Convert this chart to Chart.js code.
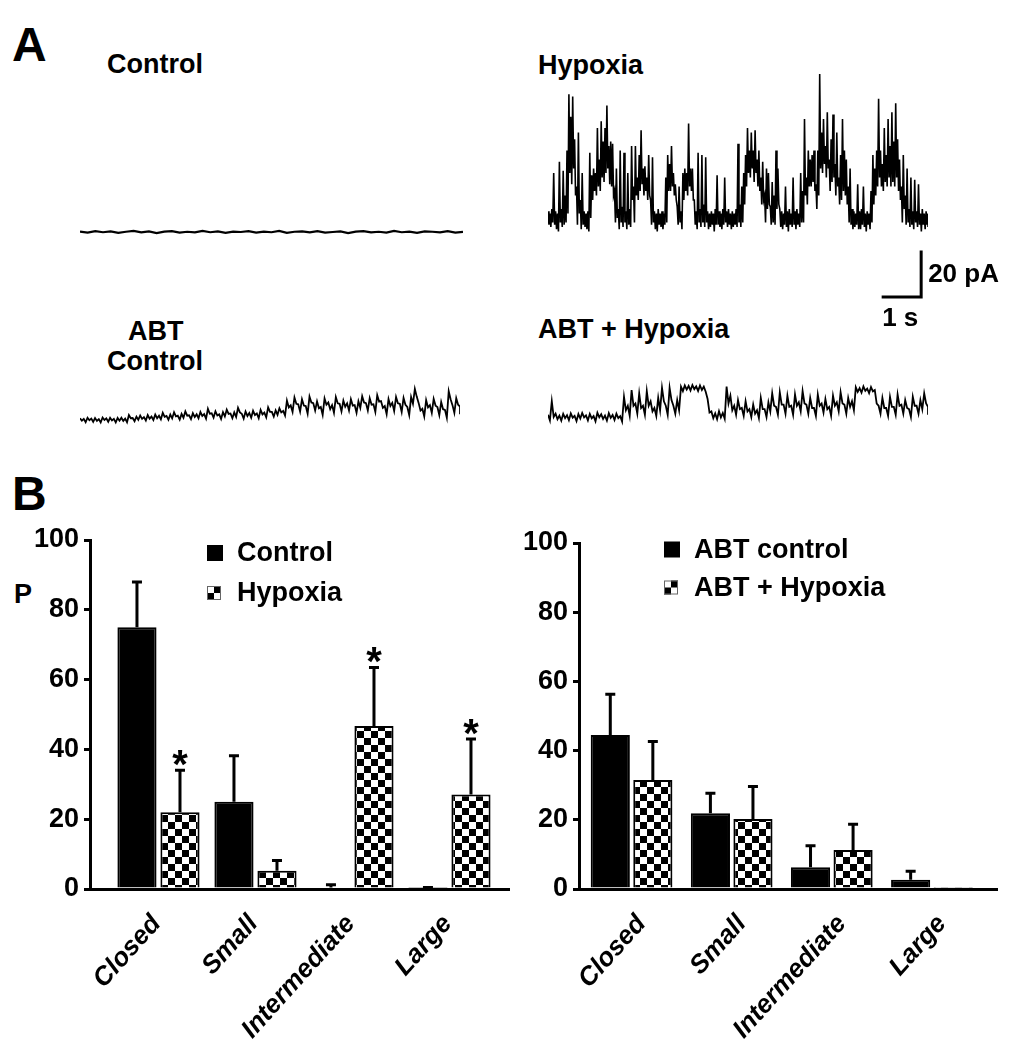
<!DOCTYPE html>
<html><head><meta charset="utf-8">
<script src="https://cdn.jsdelivr.net/npm/chart.js@4.4.1/dist/chart.umd.min.js"></script>
<style>
html,body{margin:0;padding:0;background:#fff;}
body{width:1014px;height:1050px;position:relative;overflow:hidden;font-family:'Liberation Sans',Arial,sans-serif;}
canvas{position:absolute;}
.t{position:absolute;font-weight:bold;color:#000;line-height:1;white-space:nowrap;font-size:27px;}
</style></head><body>
<div class="t" style="left:12px;top:21px;font-size:48px">A</div>
<div class="t" style="left:107px;top:51px">Control</div>
<div class="t" style="left:538px;top:52px">Hypoxia</div>
<div class="t" style="left:128px;top:318px">ABT</div>
<div class="t" style="left:107px;top:348px">Control</div>
<div class="t" style="left:538px;top:316px">ABT + Hypoxia</div>
<div class="t" style="left:12px;top:470px;font-size:48px">B</div>
<div class="t" style="left:14px;top:581px">P</div>

<canvas id="trCtrl" width="383" height="40" style="left:80px;top:212px"></canvas>
<canvas id="trHyp" width="474" height="280" style="left:540px;top:60px"></canvas>
<canvas id="trAbtCtrl" width="380" height="50" style="left:80px;top:380px"></canvas>
<canvas id="trAbtHyp" width="380" height="50" style="left:548px;top:377px"></canvas>
<canvas id="barLeft" width="510" height="550" style="left:0px;top:500px"></canvas>
<canvas id="barRight" width="514" height="550" style="left:500px;top:500px"></canvas>

<script>
// ---------------- DATA ----------------
// Single-channel current traces (pA relative to closed level), each 10 s long.
// Dense traces are stored as per-bin maximum / minimum envelopes.
const traceDuration_s = 10;
const controlTrace = [0.2,-0.3,0.4,-0.1,0.3,-0.4,0.1,0.5,-0.2,0.3,-0.5,0.2,0.4,-0.3,0.1,-0.2,0.5,-0.1,0.3,-0.4,0.2,0.0,0.4,-0.3,0.2,-0.1,0.5,-0.4,0.1,0.3,-0.2,0.4,-0.3,0.0,0.3,-0.5,0.2,0.4,-0.2,0.1,-0.3,0.5,-0.1,0.2,-0.4,0.3,0.1,-0.2,0.4,-0.3,0.1];

const hypoxiaMax = [3,2,4,20,3,2,25,4,21,10,30,55,45,54,35,14,38,8,20,3,
 2,3,29,19,22,20,40,26,43,34,40,50,32,34,33,12,22,4,30,5,
 29,3,20,4,32,14,32,18,28,39,22,23,18,28,8,27,3,2,4,2,
 3,2,18,28,24,32,20,15,5,14,3,20,22,20,42,22,22,8,3,29,
 4,28,6,27,3,2,3,2,4,19,3,2,4,18,3,4,2,3,2,4,
 33,6,14,20,28,40,30,38,30,39,26,30,18,25,10,22,20,5,16,10,
 30,22,4,3,2,14,3,4,2,18,3,4,2,20,12,44,18,30,26,28,
 30,15,30,64,38,44,32,47,26,35,46,24,38,18,28,44,30,26,14,22,
 4,3,2,15,3,4,14,2,3,2,12,28,22,30,53,30,24,40,28,44,
 32,47,34,51,35,26,14,28,10,22,4,18,3,17,3,15,2,4,2,3,2];
const hypoxiaMin = [-3,-4,-2,-3,-5,-6,-2,-4,-3,-2,2,20,15,22,10,-3,2,-5,-3,-4,
 -5,-6,0,8,12,10,14,12,18,16,20,22,15,14,10,-2,0,-5,-2,-4,
 -2,-5,-3,-4,8,-2,10,8,12,15,10,12,8,10,-3,-2,-5,-6,-3,-4,
 -5,-3,-2,12,12,14,10,8,-3,-2,-5,8,12,10,14,12,8,-3,-5,-2,
 -4,-2,-4,-2,-5,-4,-3,-6,-3,-3,-4,-5,-3,-2,-4,-3,-5,-4,-3,-4,
 -2,-4,-2,6,14,20,18,22,16,20,14,12,6,8,-2,4,6,-3,-2,-3,
 4,6,-4,-5,-3,-4,-6,-3,-4,-3,-5,-3,-4,-2,-2,10,6,14,14,16,
 12,4,10,22,20,24,18,22,12,16,18,10,14,6,8,12,10,6,-2,-3,
 -5,-4,-3,-5,-5,-3,-4,-6,-3,-5,-2,6,10,14,18,14,12,16,14,18,
 14,16,14,18,12,8,-2,4,-3,-2,-4,-3,-5,-2,-4,-3,-6,-3,-5,-3,-4];

const abtControlMax = [0.8,0.5,1.0,0.6,0.9,0.4,1.1,0.7,1.0,0.5,0.9,1.0,0.6,2.2,0.9,
 1.5,2.0,1.3,2.2,1.5,2.4,1.9,3.2,1.8,2.4,3.4,1.9,2.7,3.8,2.1,3.0,2.5,
 3.6,2.6,5.0,3.0,3.9,2.5,3.5,4.6,2.9,
 3.4,5.4,2.8,3.8,3.1,4.1,2.9,4.5,3.3,5.6,3.6,4.3,5.2,4.0,
 8.6,6.5,10.0,7.0,9.2,6.2,10.4,7.5,8.3,5.8,9.6,7.8,6.6,10.2,7.2,8.6,7.4,9.2,6.6,8.3,10.6,7.5,9.7,7.0,11.0,8.4,6.2,9.3,7.6,10.2,
 7.2,9.8,5.8,10.2,13.8,7.6,5.0,8.8,6.6,9.4,5.8,8.0,4.5,12.8,6.6,9.7,6.0];
const abtControlMin = [-0.3,-1.0,-0.1,-0.8,-0.4,-1.1,0.0,-0.8,-0.2,-1.1,-0.3,-0.4,-1.0,0.8,-0.5,
 0.1,0.5,-0.2,0.6,0.0,0.8,0.3,1.4,0.1,0.7,1.6,0.2,1.0,1.9,0.4,1.3,0.8,
 1.8,0.6,2.8,1.1,2.0,0.5,1.6,2.7,0.8,
 1.4,3.4,0.6,1.8,1.0,2.2,0.8,2.5,1.2,3.6,1.5,2.3,3.4,2.0,
 5.6,3.6,7.2,3.8,6.4,2.8,7.8,4.2,5.2,2.3,6.8,4.8,3.2,7.4,3.8,5.9,4.2,6.4,3.2,5.4,7.8,4.2,6.8,3.6,8.2,5.4,2.6,6.2,4.0,7.4,
 3.6,6.8,2.2,7.2,10.4,4.2,1.6,5.6,3.2,6.4,2.2,4.8,1.0,9.2,3.2,6.8,2.6];

const abtHypoxiaMax = [1,7,1.5,
 0.6,1.4,0.8,1.6,0.5,1.3,1.8,0.7,1.4,0.4,1.9,1.2,0.6,1.7,0.9,1.5,0.4,
 9,5,12,6,10.5,5,11.5,7,4,8.5,13,5,13,5,7.5,
 13.5,14,13.8,14.2,13.6,14,13.5,
 8,2.5,1.6,2.6,1.8,
 13.5,9.5,5,7.5,4,7,3.5,5.5,3,8.5,3.5,6.5,10.5,4.5,11,5.5,9.5,5,10,6.5,11.5,5.5,8.5,4,10,6,8,4.5,9.5,6.5,11,5.5,8.5,7,
 13.2,12.8,13.6,12.6,13.3,
 12,5,8.5,4,9,4.5,10,5.5,7.5,3.5,9,5,7.5,10.5,4.5];
const abtHypoxiaMin = [-1.5,0,-1,
 -1.6,-0.5,-1.4,-0.3,-1.8,-0.7,-0.2,-1.5,-0.6,-1.9,-0.1,-0.9,-1.6,-0.4,-1.3,-0.5,-2.0,
 3,0.5,5,1.5,4,1,5,2.5,0.5,3,7,1,7.5,1.5,3,
 11.5,12.2,11.8,12.4,11.6,12,11.2,
 2,-0.5,-1,-0.2,-0.8,
 6,3,1,3.5,0.5,2.5,0,1.5,-0.5,3.5,0,2.5,5,1,5.5,1.5,4.5,1,5,2.5,6,1.5,4,0.5,5,2,3.5,0.5,5,2.5,6,1.5,4.5,3,
 11.2,10.8,11.6,10.6,11.4,
 6,1.5,4,0.5,4.5,1,5,1.5,4,0,5,1.5,3.5,6,1];

// Scale bar
const scaleBarCurrent_pA = 20;
const scaleBarTime_s = 1;

// Panel B: open probability (P, %) by conductance state
const categories = ['Closed','Small','Intermediate','Large'];
const yTicks = [0,20,40,60,80,100];
const controlP    = [75, 25, 0.4, 0.3];
const controlErr  = [13, 13.2, 0.8, 0.1];
const hypoxiaP    = [22, 5.2, 46.7, 27.1];
const hypoxiaErr  = [12, 3, 16.8, 15.9];
const hypoxiaSig  = [true, false, true, true];
const abtControlP   = [44.5, 21.9, 6.3, 2.7];
const abtControlErr = [11.8, 5.8, 6.2, 2.4];
const abtHypoxiaP   = [31.5, 20.2, 11.3, 0.3];
const abtHypoxiaErr = [11.1, 9.4, 7.4, 0];
const abtHypoxiaSig = [false, false, false, false];

// ---------------- RENDER ----------------
Chart.defaults.font.family = "'Liberation Sans', Arial, sans-serif";
Chart.defaults.color = '#000';
const FONT = "'Liberation Sans', Arial, sans-serif";

function toXY(arr){
  const dt = traceDuration_s/(arr.length-1);
  return arr.map((v,i)=>({x:i*dt, y:v}));
}
function envelopeXY(maxArr, minArr){
  const dt = traceDuration_s/(maxArr.length-1);
  const pts = [];
  maxArr.forEach((v,i)=>{
    pts.push({x:i*dt, y:v});
    pts.push({x:Math.min(traceDuration_s, i*dt+dt/2), y:minArr[i]});
  });
  return pts;
}

function traceChart(id, pts, yMin, yMax, width, padding, extraPlugins){
  return new Chart(document.getElementById(id), {
    type:'line',
    data:{datasets:[{data:pts, borderColor:'#000', borderWidth:width, pointRadius:0, tension:0, fill:false}]},
    options:{
      responsive:false, animation:false, events:[],
      layout:{padding:padding||0},
      plugins:{legend:{display:false}, tooltip:{enabled:false}},
      scales:{
        x:{type:'linear', display:false, min:0, max:traceDuration_s},
        y:{type:'linear', display:false, min:yMin, max:yMax}
      }
    },
    plugins: extraPlugins||[]
  });
}

const scaleBarPlugin = {
  id:'scaleBar',
  afterDraw(chart){
    const xs=chart.scales.x, ys=chart.scales.y, ctx=chart.ctx;
    const tEnd = 9.82, base = -35.1;
    const x0=xs.getPixelForValue(tEnd-scaleBarTime_s), x1=xs.getPixelForValue(tEnd);
    const y0=ys.getPixelForValue(base), y1=ys.getPixelForValue(base+scaleBarCurrent_pA);
    ctx.save();
    ctx.strokeStyle='#000'; ctx.lineWidth=3; ctx.lineCap='square';
    ctx.beginPath(); ctx.moveTo(x0,y0); ctx.lineTo(x1,y0); ctx.lineTo(x1,y1); ctx.stroke();
    ctx.fillStyle='#000'; ctx.font='bold 26px '+FONT;
    ctx.textBaseline='middle'; ctx.textAlign='left';
    ctx.fillText(scaleBarCurrent_pA+' pA', x1+7, (y0+y1)/2);
    ctx.textBaseline='top'; ctx.textAlign='left';
    ctx.fillText(scaleBarTime_s+' s', x0-1, y0+9);
    ctx.restore();
  }
};

traceChart('trCtrl', toXY(controlTrace), -8.89, 8.89, 2.2);
traceChart('trHyp', envelopeXY(hypoxiaMax, hypoxiaMin), -10, 66, 1.6, {left:8,right:86,top:9.5,bottom:99.5}, [scaleBarPlugin]);
traceChart('trAbtCtrl', envelopeXY(abtControlMax, abtControlMin), -4.44, 17.78, 1.8);
traceChart('trAbtHyp', envelopeXY(abtHypoxiaMax, abtHypoxiaMin), -4.44, 17.78, 1.8);

// checker pattern
function makeChecker(cell){
  const c=document.createElement('canvas'); c.width=cell*2; c.height=cell*2;
  const g=c.getContext('2d');
  g.fillStyle='#fff'; g.fillRect(0,0,cell*2,cell*2);
  g.fillStyle='#000'; g.fillRect(0,0,cell,cell); g.fillRect(cell,cell,cell,cell);
  return g.createPattern(c,'repeat');
}
const checker = makeChecker(7);

const errorBarPlugin = {
  id:'errorBars',
  afterDatasetsDraw(chart){
    const ctx=chart.ctx, ys=chart.scales.y;
    chart.data.datasets.forEach((ds,di)=>{
      const meta=chart.getDatasetMeta(di);
      meta.data.forEach((bar,i)=>{
        const v=ds.data[i].y, e=ds.err[i];
        const yTop=ys.getPixelForValue(v), yE=ys.getPixelForValue(v+e);
        ctx.save();
        ctx.strokeStyle='#000'; ctx.lineWidth=3;
        if(e>0){
          ctx.beginPath(); ctx.moveTo(bar.x,yTop); ctx.lineTo(bar.x,yE);
          ctx.moveTo(bar.x-5,yE); ctx.lineTo(bar.x+5,yE); ctx.stroke();
        }
        if(ds.sig && ds.sig[i]){
          ctx.fillStyle='#000'; ctx.font='bold 40px '+FONT;
          ctx.textAlign='center'; ctx.textBaseline='alphabetic';
          ctx.fillText('*', bar.x, yE+8);
        }
        ctx.restore();
      });
    });
  }
};

const legendPlugin = {
  id:'customLegend',
  afterDraw(chart, args, opts){
    const ctx=chart.ctx, a=chart.chartArea;
    chart.data.datasets.forEach((ds,i)=>{
      const x=a.left+opts.dx, cy=a.top+opts.dy+i*opts.gap;
      ctx.save();
      if(ds.backgroundColor==='#000'){
        ctx.fillStyle='#000'; ctx.fillRect(x, cy-8, 16, 16);
      } else {
        ctx.fillStyle='#fff'; ctx.fillRect(x,cy-7,14,14);
        ctx.fillStyle='#000'; ctx.fillRect(x+7,cy-7,7,7); ctx.fillRect(x,cy,7,7);
        ctx.strokeStyle='#666'; ctx.lineWidth=1; ctx.strokeRect(x+0.5,cy-6.5,13,13);
      }
      ctx.fillStyle='#000'; ctx.font='bold 27px '+FONT;
      ctx.textBaseline='middle'; ctx.textAlign='left';
      ctx.fillText(ds.label, x+30, cy+1);
      ctx.restore();
    });
  }
};

function barChart(id, sets, cfg){
  return new Chart(document.getElementById(id), {
    type:'bar',
    data:{datasets: sets.map(s=>({
      label:s.label,
      data:s.values.map((v,i)=>({x:i,y:v})),
      err:s.err, sig:s.sig,
      backgroundColor:s.fill, borderColor:'#000', borderWidth:2,
      categoryPercentage:cfg.catPct, barPercentage:cfg.barPct
    }))},
    options:{
      responsive:false, animation:false, events:[],
      layout:{padding:{top:cfg.top,left:0,right:cfg.right,bottom:0}},
      plugins:{legend:{display:false}, tooltip:{enabled:false}, customLegend:cfg.legend},
      scales:{
        x:{type:'linear', min:cfg.xMin, max:cfg.xMax, offset:false,
          afterBuildTicks:s=>{s.ticks=categories.map((c,i)=>({value:i}));},
          afterFit:s=>{s.height=161;},
          ticks:{callback:v=>categories[v], autoSkip:false, minRotation:48, maxRotation:48,
                 font:{size:26, weight:'bold', style:'italic'}, color:'#000', padding:12, labelOffset:cfg.labelOffset},
          grid:{display:false},
          border:{display:true, color:'#000', width:3}
        },
        y:{min:0, max:100,
          afterBuildTicks:s=>{s.ticks=yTicks.map(v=>({value:v}));},
          afterFit:s=>{s.width=cfg.yWidth;},
          ticks:{font:{size:27, weight:'bold'}, color:'#000', padding:5},
          grid:{drawOnChartArea:false, color:'#000', lineWidth:3, tickLength:6},
          border:{display:true, color:'#000', width:3}
        }
      }
    },
    plugins:[errorBarPlugin, legendPlugin]
  });
}

barChart('barLeft', [
  {label:'Control', values:controlP, err:controlErr, fill:'#000'},
  {label:'Hypoxia', values:hypoxiaP, err:hypoxiaErr, sig:hypoxiaSig, fill:checker}
], {top:40, right:0, yWidth:90, xMin:-0.706, xMax:3.624, catPct:0.887, barPct:0.91, labelOffset:-2,
    legend:{dx:117, dy:13, gap:40}});

barChart('barRight', [
  {label:'ABT control', values:abtControlP, err:abtControlErr, fill:'#000'},
  {label:'ABT + Hypoxia', values:abtHypoxiaP, err:abtHypoxiaErr, sig:abtHypoxiaSig, fill:checker}
], {top:43, right:17, yWidth:79, xMin:-0.525, xMax:3.65, catPct:0.85, barPct:0.92, labelOffset:10,
    legend:{dx:85, dy:6.5, gap:38}});
</script>
</body></html>
